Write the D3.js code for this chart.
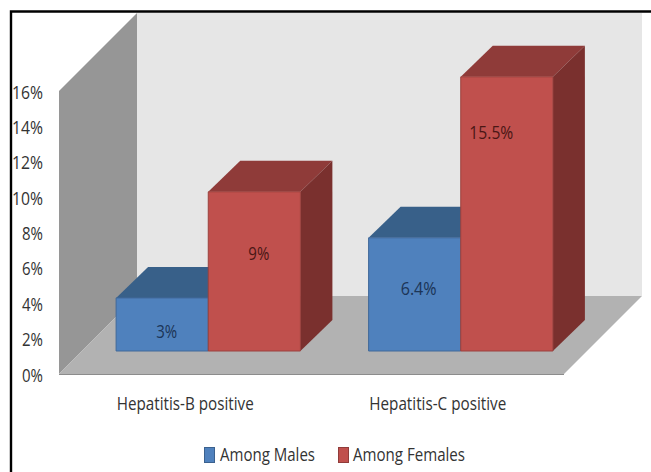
<!DOCTYPE html>
<html>
<head>
<meta charset="utf-8">
<title>Hepatitis positive</title>
<style>
html, body { margin: 0; padding: 0; background: #fff; }
svg { display: block; }
text { font-family: "Open Sans", "Noto Sans", sans-serif; }
</style>
</head>
<body>
<script src="https://cdnjs.cloudflare.com/ajax/libs/d3/7.8.5/d3.min.js" charset="utf-8"></script>
<script>
var categories = ["Hepatitis-B positive", "Hepatitis-C positive"];
var seriesNames = ["Among Males", "Among Females"];
var males = [3, 6.4];
var females = [9, 15.5];
var maleLabels = ["3%", "6.4%"];
var femaleLabels = ["9%", "15.5%"];
var yTicks = [0, 2, 4, 6, 8, 10, 12, 14, 16];

var width = 651, height = 472;
var dx = 78, dy = 78;          // depth of the floor and walls
var barDx = 32, barDy = 31;    // depth of one bar
var floorInset = 23;           // how far the bars stand back from the floor edge

// the labels in the picture were moved by hand, so they are not centred on the bars
var maleLabelShift = [[4.5, 13.5], [4, 0.5]];
var femaleLabelShift = [[4.5, -11.5], [-15.5, -75]];

var svg = d3.select("body").append("svg")
    .attr("width", width)
    .attr("height", height);

var x = d3.scaleBand().domain(categories).range([59, 564]);
var y = d3.scaleLinear().domain([0, 16]).range([374, 91]);
var inner = d3.scaleBand().domain(seriesNames).range([0, x.bandwidth()]).paddingInner(0).paddingOuter(0.37);

// colours: front, top, side, label
var colors = {
  "Among Males": ["#4f81bd", "#386089", "#2f5378", "#1c3557"],
  "Among Females": ["#c0504d", "#8f3b39", "#7a302e", "#4a1715"]
};

function poly(points, fill, stroke) {
  return svg.append("polygon")
    .attr("points", points.map(function(p) { return p.join(","); }).join(" "))
    .attr("fill", fill)
    .attr("stroke", stroke || "none");
}

// squeezed text, the original face is much narrower than the installed ones
function label(parent, px, py, str, size, w, anchor, fill) {
  return parent.append("text")
    .attr("x", px)
    .attr("y", py)
    .attr("text-anchor", anchor)
    .attr("font-size", size)
    .attr("fill", fill)
    .attr("textLength", w)
    .attr("lengthAdjust", "spacingAndGlyphs")
    .text(str);
}

var x0 = x.range()[0], x1 = x.range()[1], y0 = y(0), yTop = y(16);

// back wall
poly([[x0 + dx, yTop - dy], [x1 + dx, yTop - dy], [x1 + dx, y0 - dy], [x0 + dx, y0 - dy]], "#e6e6e6");
// left wall
poly([[x0, y0], [x0, yTop], [x0 + dx, yTop - dy], [x0 + dx, y0 - dy]], "#969696");
// floor
poly([[x0, y0], [x1, y0], [x1 + dx, y0 - dy], [x0 + dx, y0 - dy]], "#b2b2b2");
svg.append("line")
    .attr("x1", x0).attr("x2", x1)
    .attr("y1", y0 + 0.5).attr("y2", y0 + 0.5)
    .attr("stroke", "#8c8c8c");

function drawBar(cat, name, value, text, shift) {
  var c = colors[name];
  var left = x(cat) + floorInset + inner(name);
  var right = left + inner.bandwidth();
  var bottom = y(0) - floorInset;
  var top = bottom - (y(0) - y(value));
  poly([[left, top], [right, top], [right + barDx, top - barDy], [left + barDx, top - barDy]], c[1]);
  poly([[right, top], [right + barDx, top - barDy], [right + barDx, bottom - barDy], [right, bottom]], c[2]);
  poly([[left, top], [right, top], [right, bottom], [left, bottom]], c[0], d3.color(c[0]).darker(0.6));
  return {x: (left + right) / 2 + shift[0], y: (top + bottom) / 2 + shift[1], text: text, fill: c[3]};
}

var barLabels = [];
categories.forEach(function(cat, i) {
  barLabels.push(drawBar(cat, seriesNames[0], males[i], maleLabels[i], maleLabelShift[i]));
  barLabels.push(drawBar(cat, seriesNames[1], females[i], femaleLabels[i], femaleLabelShift[i]));
});
// labels last so the next bar cannot cover them
barLabels.forEach(function(d) {
  label(svg, d.x, d.y, d.text, 18, d.text.length == 2 ? 21 : (d.text.length == 4 ? 36 : 44), "middle", d.fill);
});

// y axis labels
yTicks.forEach(function(d) {
  label(svg, 43, y(d) + 7.5, d + "%", 18, d < 10 ? 21 : 31, "end", "#333");
});

// category labels
categories.forEach(function(d) {
  label(svg, x(d) + x.bandwidth() / 2, 410, d, 19, 137, "middle", "#333");
});

// legend
var legendX = [204, 338], legendW = [95, 112];
seriesNames.forEach(function(name, i) {
  svg.append("rect")
      .attr("x", legendX[i] + 0.5).attr("y", 447.5)
      .attr("width", 10).attr("height", 15)
      .attr("fill", colors[name][0])
      .attr("stroke", d3.color(colors[name][0]).darker(0.8));
  label(svg, legendX[i] + (i == 0 ? 16 : 15), 461, name, 19, legendW[i], "start", "#333");
});

// outer frame, only left and top are inside the picture
svg.append("path")
    .attr("d", "M11,472V11.5H651")
    .attr("fill", "none")
    .attr("stroke", "#000")
    .attr("stroke-width", 2.4);
</script>
</body>
</html>
